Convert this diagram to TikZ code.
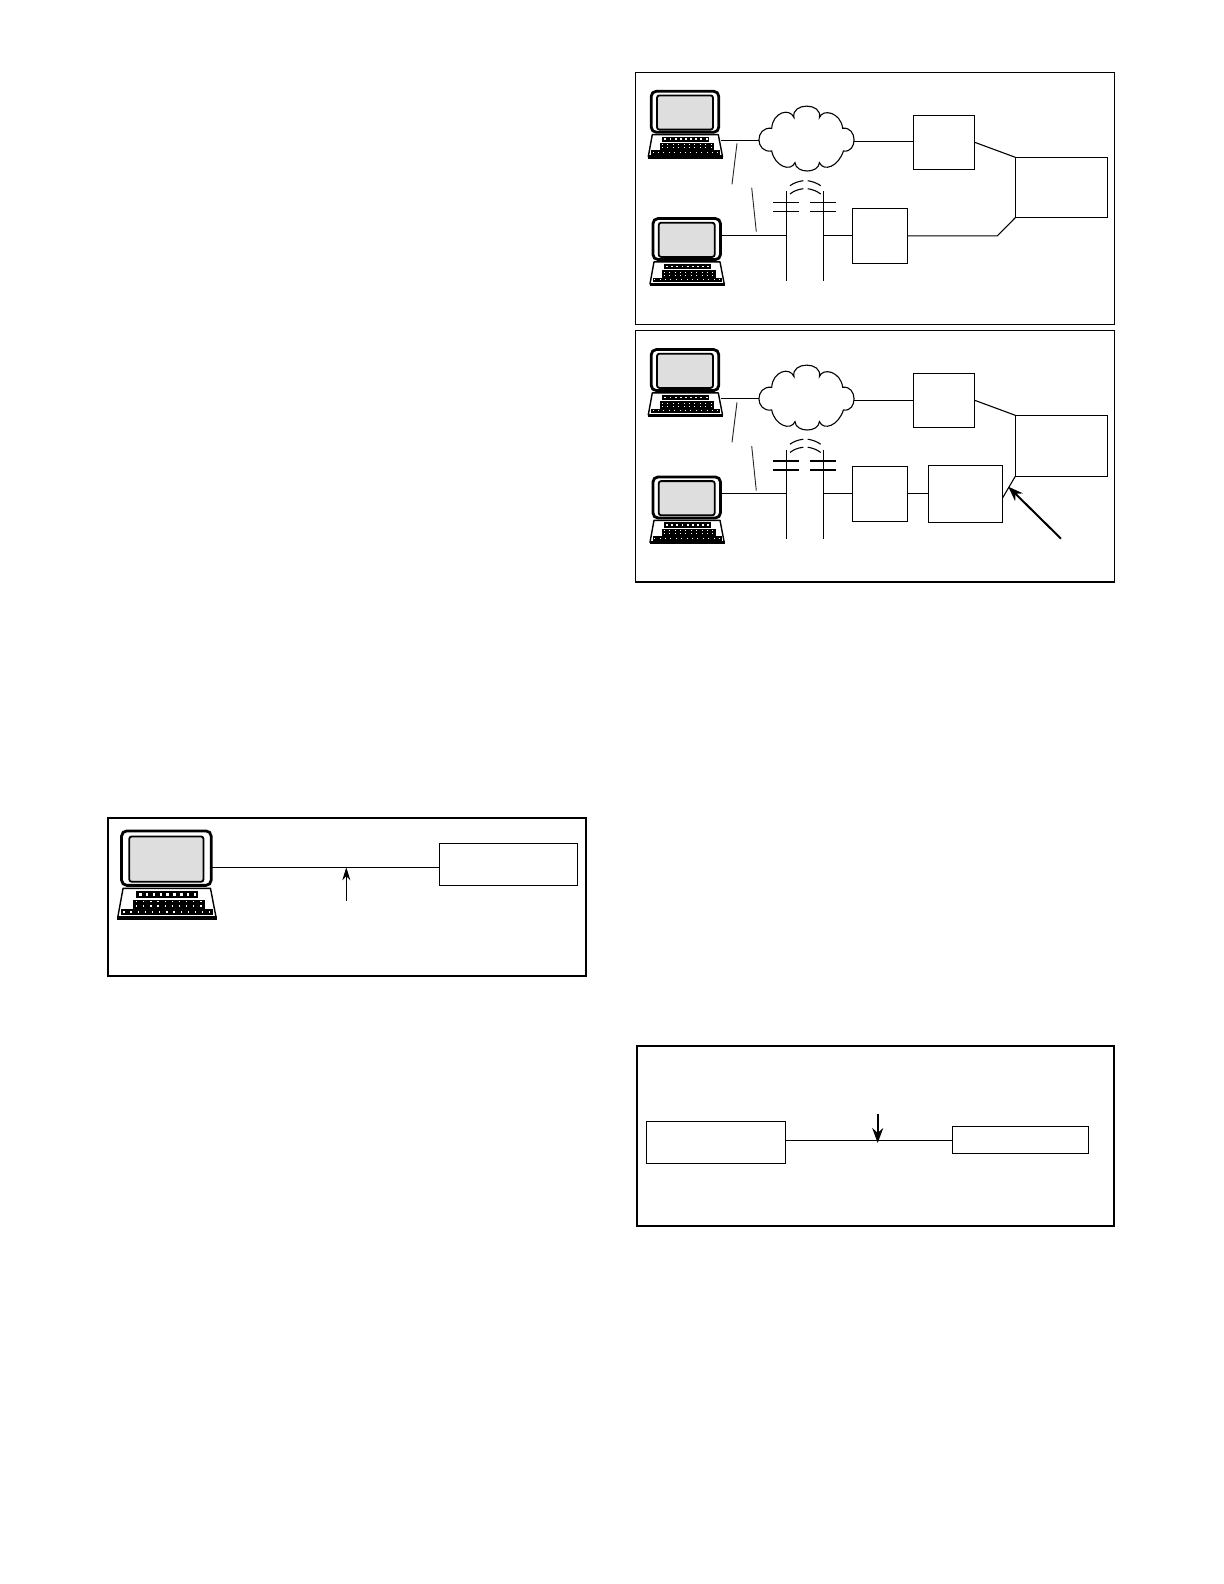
\documentclass[tikz,border=0pt]{standalone}
\usetikzlibrary{arrows.meta,calc}
\definecolor{screengray}{gray}{0.87}
\definecolor{dashgray}{gray}{0.15}
\tikzset{
  x=0.5bp,y=-0.5bp,
  thinline/.style={line width=0.55bp,black},
  framethin/.style={draw,line width=0.55bp},
  framethick/.style={draw,line width=1bp},
  blockbox/.style={draw,line width=0.55bp,rectangle,inner sep=0pt,outer sep=0pt,fill=white},
  dashseg/.style={line width=0.45bp,dashgray},
  capline/.style={line width=0.5bp},
  capthick/.style={line width=1bp},
  pointer/.style={line width=0.5bp,-{Stealth[length=6.5bp,width=4bp]}},
  pointerbold/.style={line width=1bp,-{Stealth[length=7.5bp,width=5.5bp]}},
  computer/.pic={
    \draw[line width=1.4bp,rounded corners=2.6bp,fill=white] (1.2,1.2) rectangle (68.8,42.3);
    \draw[line width=0.9bp,rounded corners=1.2bp,fill=screengray] (7,5.4) rectangle (63,39.6);
    \draw[line width=0.7bp,fill=white,line join=round] (2.3,44.6) -- (68.3,44.6) -- (72.5,66.5) -- (-1.7,66.5) -- cycle;
    \fill (-2,65.4) rectangle (73,68.6);
    \fill (12.3,46.6) rectangle (59,51.8);
    \fill (10,53) rectangle (64,60.2);
    \fill (1,60.2) rectangle (70,64.8);
    \foreach \i in {0,...,8} \fill[white] ({14.4+\i*5.15},48.2) rectangle ++(1.9,1.9);
    \foreach \i in {0,...,9} {
      \fill[white] ({12+\i*5.4},54.2) rectangle ++(1,1);
      \fill[white] ({12+\i*5.4},57.4) rectangle ++(1,1);
    }
    \foreach \i in {0,...,12} \fill[white] ({2.5+\i*5.4},61.8) rectangle ++(1,1);
    \coordinate (-kbd) at (71,50.3);
    \coordinate (-scr) at (69.5,18);
    \coordinate (-side) at (69.5,28.7);
  },
  cloudshape/.pic={
    \draw[line width=0.55bp,fill=white]
      (-12.7,-20.7) .. controls (-16,-36) and (16,-36) .. (12.7,-20.7)
      .. controls (16,-30) and (34,-26) .. (36,-10)
      .. controls (51,-12) and (51,15) .. (36.7,12.7)
      .. controls (32,28) and (17,34) .. (12.7,24.3)
      .. controls (12,35.5) and (-11,35.5) .. (-11.7,24.3)
      .. controls (-16,34) and (-32,28) .. (-35,12.7)
      .. controls (-52,15) and (-52,-12) .. (-35,-10)
      .. controls (-34,-26) and (-17,-31) .. (-12.7,-20.7) -- cycle;
    \coordinate (-w) at (-47.7,1.7);
    \coordinate (-e) at (47.3,3);
  },
  channel/.pic={
    \draw[line width=0.55bp] (0,0) -- (0,89.7) (36.6,0) -- (36.6,89.7);
    \draw[pic actions] (-13.4,11) -- (12.3,11) (-13.4,20) -- (12.3,20)
      (23.6,11) -- (49.3,11) (23.6,20) -- (49.3,20);
    \draw[line width=0.55bp] (3.3,-5.3) .. controls (7,-8) and (11,-9.5) .. (16.6,-10.3)
      (3.3,3) .. controls (7,0) and (11,-1.5) .. (16.6,-2.3)
      (21,-10.3) .. controls (26,-9.5) and (30,-8) .. (34,-5.3)
      (21,-2.3) .. controls (26,-1.5) and (30,0) .. (34,3);
    \coordinate (-l) at (0,44.3);
    \coordinate (-r) at (36.6,44.3);
  }
}
\newcommand{\blockat}[5]{\node[blockbox,minimum width={(#4-#2)*0.5bp},minimum height={(#5-#3)*0.5bp}] (#1) at ({(#2+#4)/2},{(#3+#5)/2}) {};}
\begin{document}
\begin{tikzpicture}
\useasboundingbox (0,0) rectangle (1224,1584);
\fill[white] (0,0) rectangle (1224,1584);
% panel frames
\draw[framethin] (635.4,72.3) rectangle (1114.3,324.3);
\draw[framethin] (635.4,330.3) rectangle (1114.3,582);
\draw[framethick] (107.7,817.7) rectangle (586.3,975.7);
\draw[framethick] (636.7,1045.7) rectangle (1114,1225.7);

% panel 1
\pic (a1) at (650,90) {computer};
\pic (a2) at (651.7,217.3) {computer};
\pic (acl) at (806.7,138.3) {cloudshape};
\pic[capline] (ach) at (786.7,191) {channel};
\blockat{aA}{913.3}{115.3}{974.7}{169.3}
\blockat{aB}{1015.3}{157.3}{1107.7}{217.7}
\blockat{aC}{852.3}{208.3}{907.7}{263.3}
\coordinate (aj) at (997.3,235.8);
\draw[thinline] (a1-kbd) -- (a1-kbd -| acl-w);
\draw[thinline] (acl-e) -- (acl-e -| aA.west);
\draw[thinline] (aA.east) -- (aB.north west);
\draw[thinline] (aC.east) -- (aj) -- (aB.south west);
\draw[thinline] (a2-scr) -- (a2-scr -| ach-l);
\draw[thinline] (ach-r) -- (ach-r -| aC.west);
\coordinate (ad1) at (737,143.3); \coordinate (ad2) at (732,184.3);
\coordinate (ad3) at (751.7,187.7); \coordinate (ad4) at (756.3,231.7);
\draw[dashseg] (ad1) -- (ad2);
\draw[dashseg] (ad3) -- (ad4);

% panel 2
\pic (b1) at (650,348.3) {computer};
\pic (b2) at (651.7,475.7) {computer};
\pic (bcl) at (806.7,397.3) {cloudshape};
\pic[capthick] (bch) at (786.7,449.5) {channel};
\blockat{bA}{913.3}{373.3}{974.7}{427.3}
\blockat{bB}{1015.3}{415.3}{1107.7}{476.3}
\blockat{bC}{852.3}{466.3}{907.7}{521.3}
\blockat{bD}{928.3}{465.3}{1002.7}{522.3}
\coordinate (btail) at (1061,538.7);
\coordinate (btip) at (1008.3,486.7);
\draw[thinline] (b1-kbd) -- (b1-kbd -| bcl-w);
\draw[thinline] (bcl-e) -- (bcl-e -| bA.west);
\draw[thinline] (bA.east) -- (bB.north west);
\draw[thinline] (bC.east) -- (bD.west);
\draw[thinline] (bD.east) ++(0,3.9) -- (bB.south west);
\draw[thinline] (b2-scr) -- (b2-scr -| bch-l);
\draw[thinline] (bch-r) -- (bch-r -| bC.west);
\draw[pointerbold] (btail) -- (btip);
\coordinate (bd1) at (737,402.3); \coordinate (bd2) at (732,442.3);
\coordinate (bd3) at (751.7,446); \coordinate (bd4) at (756.3,490.7);
\draw[dashseg] (bd1) -- (bd2);
\draw[dashseg] (bd3) -- (bd4);

% bottom left panel
\pic[scale=1.325] (c1) at (120,829.3) {computer};
\blockat{cA}{439.3}{843.3}{577.7}{885.7}
\draw[thinline] (c1-side) -- (c1-side -| cA.west);
\coordinate (cp) at (346.3,900.7);
\coordinate (cq) at (346.3,867.3);
\draw[pointer] (cp) -- (cq);

% bottom right panel
\blockat{dA}{646.3}{1121.3}{785.7}{1163.3}
\blockat{dB}{952.3}{1126.3}{1088.7}{1153.3}
\coordinate (dl) at ($(dB.west)+(0,0.6)$);
\draw[thinline] (dl) -- (dl -| dA.east);
\coordinate (dp) at (877.7,1114);
\coordinate (dq) at (877.7,1143);
\draw[pointerbold] (dp) -- (dq);
\end{tikzpicture}
\end{document}
